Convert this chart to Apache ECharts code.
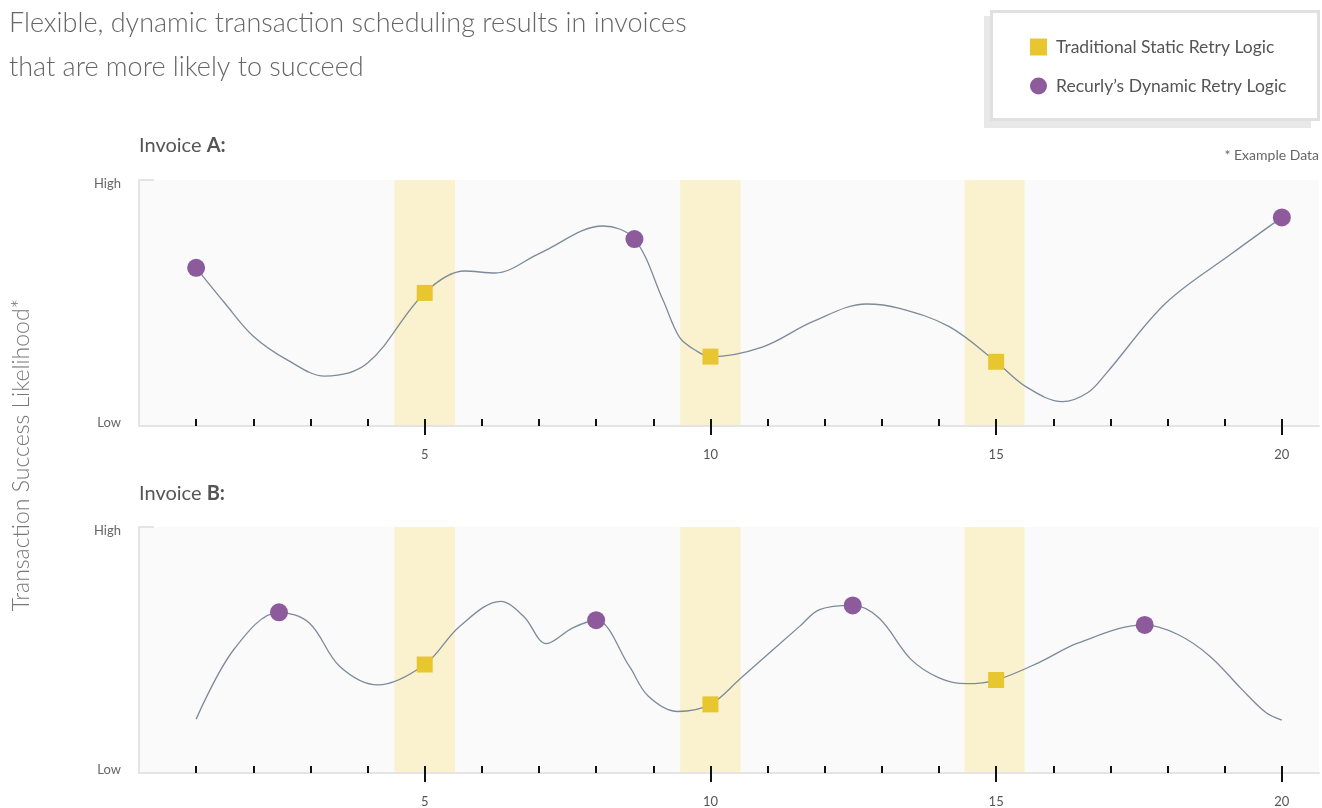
<!DOCTYPE html>
<html>
<head>
<meta charset="utf-8">
<script src="https://cdn.jsdelivr.net/npm/echarts@6/dist/echarts.min.js"></script>
<style>
  html, body { margin: 0; padding: 0; background: #fff; }
  #chart { width: 1322px; height: 808px; }
</style>
</head>
<body>
<div id="chart"></div>
<script>
// day ticks along the x axis
const dayTicks = [1, 2, 3, 4, 5, 6, 7, 8, 9, 10, 11, 12, 13, 14, 15, 16, 17, 18, 19, 20];
const dayLabels = [5, 10, 15, 20];
// static retry windows
const retryWindows = [[4.47, 5.53], [9.47, 10.53], [14.45, 15.5]];

// Invoice A: success likelihood curve (0 = low, 100 = high)
const curveA = [
  [1, 64.3], [1.5, 50], [2, 36.5], [2.6, 26.8], [3.25, 20.3], [4, 25.6], [5, 54.1], [5.7, 63.0],
  [6.23, 62.2], [7.01, 70.2], [8.12, 81.3], [8.67, 76.0], [9.17, 51.2], [9.46, 36.0],
  [9.75, 30.6], [10, 28.2], [10.92, 32.2], [11.79, 42.4], [12.73, 49.6], [13.31, 47.8],
  [14.18, 40.4], [15, 26.1], [15.52, 16.0], [16.16, 9.9], [16.6, 13.5], [16.93, 21.5],
  [17.97, 50], [19.13, 70.2], [20, 84.8]
];
const staticA = [[5, 54.1], [10, 28.2], [15, 26.1]];
const dynamicA = [[1, 64.3], [8.67, 76.0], [20, 84.8]];

// Invoice B
const curveB = [
  [1, 21.9], [1.66, 50.2], [2.45, 65.3], [2.98, 61.0], [3.51, 43.4], [4.18, 35.8], [5, 44.1],
  [5.61, 59.6], [6.33, 69.8], [6.73, 63.7], [7.13, 52.6], [7.59, 59.0], [8.0, 62.1],
  [8.58, 43.4], [8.91, 31.3], [9.43, 25.0], [10, 27.9], [10.51, 38.1], [11.56, 59.6],
  [11.91, 66.4], [12.49, 68.1], [12.95, 63.0], [13.51, 46.2], [14.0, 38.7], [14.48, 36.3],
  [15, 37.8], [15.74, 44.8], [16.44, 52.9], [17.6, 60.2], [18.18, 56.3], [18.74, 47.5],
  [19.3, 34.0], [19.72, 24.6], [20, 21.5]
];
const staticB = [[5, 44.1], [10, 27.9], [15, 37.8]];
const dynamicB = [[2.45, 65.3], [8.0, 62.1], [12.49, 68.1], [17.6, 60.2]];

const STATIC_NAME = 'Traditional Static Retry Logic';
const DYNAMIC_NAME = 'Recurly\u2019s Dynamic Retry Logic';
const FONT = 'Lato, "Open Sans", sans-serif';

const chart = echarts.init(document.getElementById('chart'));

const grids = [
  { left: 139, right: 3, top: 180, height: 246 },
  { left: 139, right: 3, top: 527, height: 247 }
];

const xAxes = [];
const yAxes = [];
grids.forEach((g, i) => {
  xAxes.push({
    type: 'value', gridIndex: i, position: 'bottom', min: 0, max: 20.65, z: 10,
    axisLine: { lineStyle: { color: '#e4e4e4', width: 2 } },
    axisTick: { customValues: dayTicks, inside: true, length: 7, lineStyle: { color: '#111', width: 2 } },
    axisLabel: { show: false },
    splitLine: { show: false }
  });
  xAxes.push({
    type: 'value', gridIndex: i, position: 'bottom', min: 0, max: 20.65, z: 10,
    axisLine: { show: false },
    axisTick: { customValues: dayLabels, length: 9, lineStyle: { color: '#111', width: 2 } },
    axisLabel: { customValues: dayLabels, margin: 22, color: '#555', fontSize: 13, fontFamily: FONT },
    splitLine: { show: false }
  });
  yAxes.push({
    type: 'value', gridIndex: i, min: 0, max: 100, z: 10,
    axisLine: { show: true, lineStyle: { color: '#e4e4e4', width: 2 } },
    axisTick: { show: true, customValues: [100], inside: true, length: 15, lineStyle: { color: '#e4e4e4', width: 2 } },
    axisLabel: {
      customValues: [0, 100], margin: 18, color: '#666', fontSize: 13, fontFamily: FONT,
      formatter: (v) => (v === 100 ? '{h|High}' : '{l|Low}'),
      rich: {
        h: { color: '#666', fontSize: 13, fontFamily: FONT, padding: [8, 0, 0, 0] },
        l: { color: '#666', fontSize: 13, fontFamily: FONT, padding: [0, 0, 7, 0] }
      }
    },
    splitLine: { show: false }
  });
});

const curveSeries = (data, i) => ({
  type: 'line', xAxisIndex: i * 2, yAxisIndex: i, data: data,
  smooth: 0.35, showSymbol: false, silent: true,
  lineStyle: { color: '#7d8a99', width: 1.3 },
  markArea: {
    silent: true,
    itemStyle: { color: '#faf2cf' },
    data: retryWindows.map((w) => [{ xAxis: w[0] }, { xAxis: w[1] }])
  },
  z: 2
});

const pointSeries = (name, data, i, symbol, size, color) => ({
  name: name, type: 'scatter', xAxisIndex: i * 2, yAxisIndex: i, data: data,
  symbol: symbol, symbolSize: size, itemStyle: { color: color, opacity: 1 }, z: 5
});

const option = {
  backgroundColor: '#fff',
  animation: false,
  title: [
    {
      text: 'Flexible, dynamic transaction scheduling results in invoices\nthat are more likely to succeed',
      left: 4, top: -4,
      textStyle: { fontFamily: FONT, fontSize: 27, fontWeight: 300, color: '#666', lineHeight: 44 }
    },
    {
      text: 'Invoice {b|A:}', left: 134, top: 131,
      textStyle: { fontFamily: FONT, fontSize: 20, fontWeight: 'normal', color: '#555',
        rich: { b: { fontFamily: FONT, fontSize: 20, fontWeight: 'bold', color: '#555' } } }
    },
    {
      text: 'Invoice {b|B:}', left: 134, top: 479,
      textStyle: { fontFamily: FONT, fontSize: 20, fontWeight: 'normal', color: '#555',
        rich: { b: { fontFamily: FONT, fontSize: 20, fontWeight: 'bold', color: '#555' } } }
    },
    {
      text: '* Example Data', right: -2, top: 143,
      textStyle: { fontFamily: FONT, fontSize: 14, fontWeight: 'normal', color: '#666' }
    }
  ],
  legend: {
    orient: 'vertical', left: 1025, top: 33, itemGap: 21, itemWidth: 17, itemHeight: 17,
    selectedMode: false, z: 10,
    textStyle: { fontFamily: FONT, fontSize: 17.5, color: '#555', padding: [0, 0, 0, 4] },
    data: [STATIC_NAME, DYNAMIC_NAME]
  },
  graphic: [
    { type: 'rect', z: 0, shape: { x: 984, y: 16, width: 327, height: 112 }, style: { fill: '#e8e8e8' } },
    { type: 'rect', z: 1, shape: { x: 991.5, y: 11.5, width: 327, height: 108 },
      style: { fill: '#fff', stroke: '#e0e0e0', lineWidth: 3 } },
    { type: 'text', z: 1, x: 22, y: 455, rotation: Math.PI / 2,
      style: { text: 'Transaction Success Likelihood*', fill: '#777', font: '300 23px ' + FONT,
        textAlign: 'center', textVerticalAlign: 'middle' } }
  ],
  grid: grids.map((g) => Object.assign({ show: true, backgroundColor: '#fafafa', borderWidth: 0 }, g)),
  xAxis: xAxes,
  yAxis: yAxes,
  series: [
    curveSeries(curveA, 0),
    pointSeries(STATIC_NAME, staticA, 0, 'rect', 16, '#e8c630'),
    pointSeries(DYNAMIC_NAME, dynamicA, 0, 'circle', 18, '#8d5a9b'),
    curveSeries(curveB, 1),
    pointSeries(STATIC_NAME, staticB, 1, 'rect', 16, '#e8c630'),
    pointSeries(DYNAMIC_NAME, dynamicB, 1, 'circle', 18, '#8d5a9b')
  ]
};

chart.setOption(option);
</script>
</body>
</html>
